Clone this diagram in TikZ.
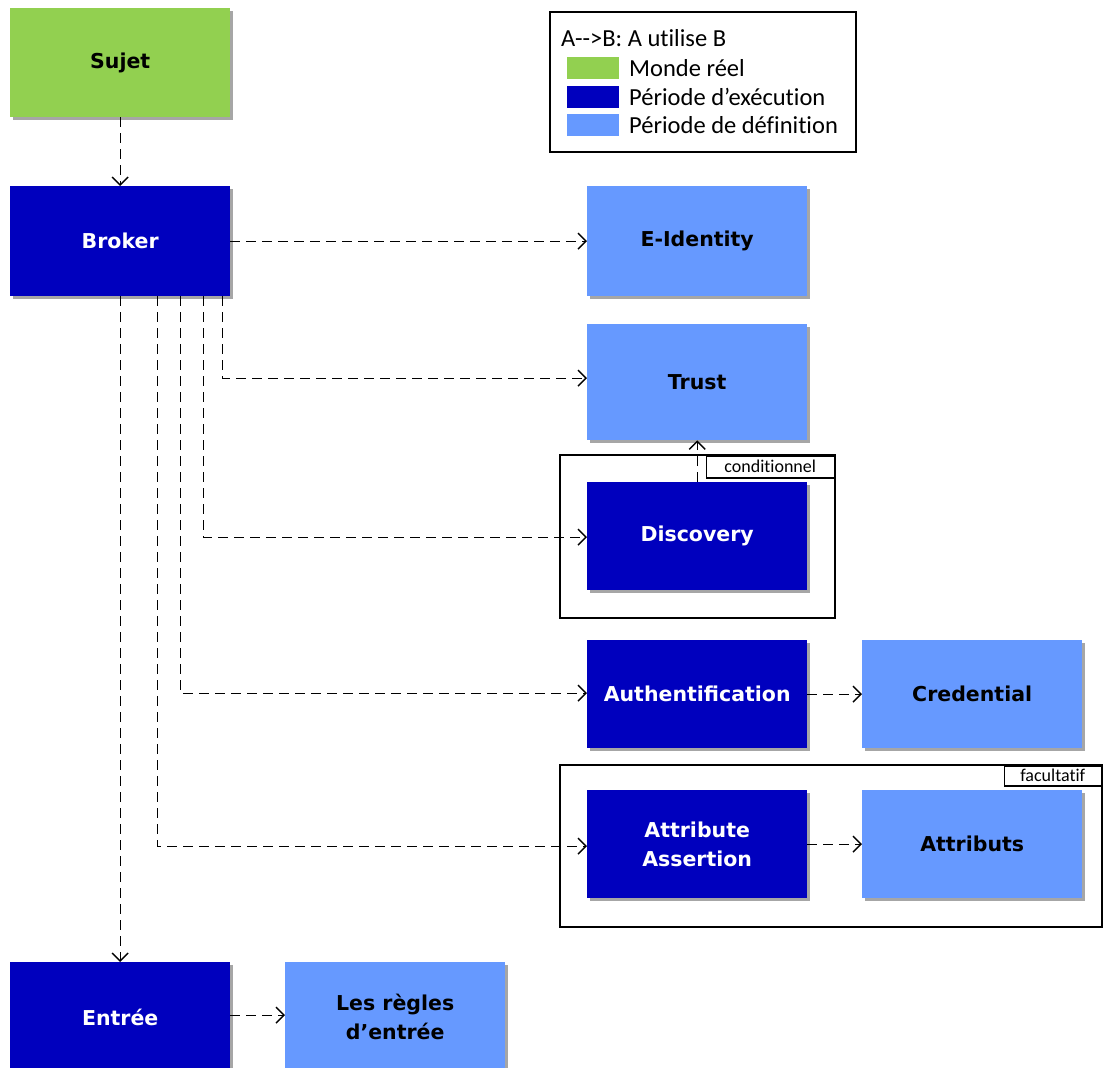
\documentclass[tikz,border=0pt]{standalone}
\usepackage{fontspec}
\setmainfont{DejaVu Sans}
\newfontfamily\legendfont[Ligatures={NoCommon}]{Carlito}
\usetikzlibrary{arrows.meta,shadows}

\definecolor{realgreen}{RGB}{146,208,80}
\definecolor{runblue}{RGB}{0,0,190}
\definecolor{defblue}{RGB}{102,153,255}

\begin{document}
\begin{tikzpicture}[x=1pt,y=-1pt,
  blk/.style={anchor=north west, minimum width=220pt, inner sep=0pt,
    align=center, font=\fontsize{20.5}{29}\selectfont\bfseries,
    drop shadow={shadow xshift=2.5pt, shadow yshift=-2.5pt, fill=black, opacity=0.35}},
  real/.style={blk, fill=realgreen, text=black},
  run/.style={blk, fill=runblue, text=white},
  def/.style={blk, fill=defblue, text=black},
  conn/.style={draw=black, line width=1.4pt, dash pattern=on 10pt off 6pt,
    -{Straight Barb[length=8pt,width=16pt,line width=1.4pt]}},
  frame/.style={draw=black, line width=1.5pt},
  tag/.style={draw=black, line width=1.5pt, anchor=north east, inner sep=0pt,
    font=\legendfont\fontsize{18}{20}\selectfont},
]
\clip (0,0) rectangle (1104,1068);
\useasboundingbox (0,0) rectangle (1104,1068);

% groups drawn first so the boxes sit on top of them
\draw[frame] (560,455) rectangle (835,618);
\node[tag, minimum width=128pt, minimum height=22pt] (condtag) at (835,455) {conditionnel};
\draw[frame] (560,765) rectangle (1102,927);
\node[tag, minimum width=97pt, minimum height=20pt] (factag) at (1102,765) {facultatif};

% boxes
\node[real, minimum height=109pt] (sujet) at (10,8) {Sujet};
\node[run, minimum height=110pt] (broker) at (10,186) {Broker};
\node[def, minimum height=110pt] (eid) at (587,186) {E-Identity};
\node[def, minimum height=116pt] (trust) at (587,324) {Trust};
\node[run, minimum height=108pt] (disc) at (587,482) {Discovery};
\node[run, minimum height=108pt] (auth) at (587,640) {Authentification};
\node[def, minimum height=108pt] (cred) at (862,640) {Credential};
\node[run, minimum height=108pt] (attr) at (587,790) {Attribute\\Assertion};
\node[def, minimum height=108pt] (attrs) at (862,790) {Attributs};
\node[run, minimum height=110pt] (entree) at (10,962) {Entrée};
\node[def, minimum height=110pt] (regles) at (285,962) {Les règles\\d’entrée};

% connectors
\draw[conn] (sujet.south) -- (broker.north);
\draw[conn] (broker.east) -- (eid.west);
\draw[conn] ([xshift=102pt]broker.south) |- ([yshift=4pt]trust.west);
\draw[conn] ([xshift=83pt]broker.south) |- ([yshift=-1pt]disc.west);
\draw[conn] ([xshift=60pt]broker.south) |- ([yshift=1pt]auth.west);
\draw[conn] ([xshift=37pt]broker.south) |- ([yshift=-2pt]attr.west);
\draw[conn] (broker.south) -- (entree.north);
\draw[conn] (disc.north) -- (trust.south);
\draw[conn] (auth.east) -- (cred.west);
\draw[conn] (attr.east) -- (attrs.west);
\draw[conn] ([yshift=2pt]entree.east) -- ([yshift=2pt]regles.west);

% legend
\draw[frame] (550,12) rectangle (856,152);
\begin{scope}[every node/.style={anchor=west, inner sep=0pt,
    font=\legendfont\fontsize{24.5}{27}\selectfont}]
  \node (lgtitle) at (561,38) {A-{}-{}>B: A utilise B};
  \fill[realgreen] (567,57) rectangle (619,79);
  \fill[runblue] (567,86) rectangle (619,108);
  \fill[defblue] (567,114) rectangle (619,136);
  \node (lgreal) at (629,68) {Monde réel};
  \node (lgrun) at (629,97) {Période d’exécution};
  \node (lgdef) at (629,125) {Période de définition};
\end{scope}
\end{tikzpicture}
\end{document}
